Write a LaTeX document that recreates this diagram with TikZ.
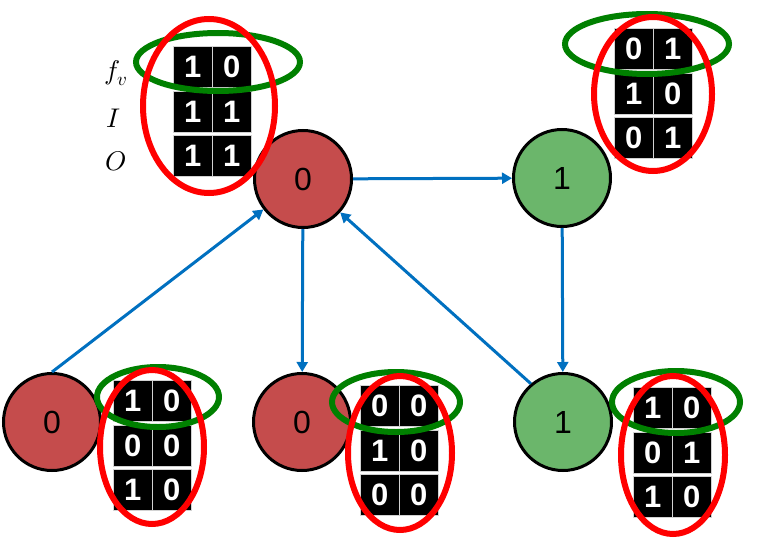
\documentclass[tikz,border=0pt]{standalone}
\usepackage{fontspec}
\usepackage{unicode-math}
\setmathfont{Latin Modern Math}
\setsansfont{Liberation Sans}
\usetikzlibrary{arrows.meta}
\definecolor{nodered}{RGB}{197,76,76}
\definecolor{nodegreen}{RGB}{107,182,107}
\definecolor{arrowblue}{RGB}{0,112,192}
\definecolor{ringgreen}{RGB}{0,128,0}
\definecolor{ringred}{RGB}{255,0,0}
\newcommand\cellmatrix[9]{%
  \node[cell] (#1-11) at (#2,#3) {#4};
  \node[cell] (#1-12) at (#2+39,#3) {#5};
  \node[cell] (#1-21) at (#2,#3+44.5) {#6};
  \node[cell] (#1-22) at (#2+39,#3+44.5) {#7};
  \node[cell] (#1-31) at (#2,#3+89) {#8};
  \node[cell] (#1-32) at (#2+39,#3+89) {#9};
}
\begin{document}
\begin{tikzpicture}[x=1pt,y=-1pt,
  vertex/.style={circle,draw=black,line width=3pt,minimum size=97pt,inner sep=0pt,
    font=\sffamily\fontsize{32}{32}\selectfont},
  redv/.style={vertex,fill=nodered},
  greenv/.style={vertex,fill=nodegreen},
  cell/.style={rectangle,anchor=north west,fill=black,draw=gray!35,line width=0.7pt,
    minimum width=39pt,minimum height=41pt,inner sep=0pt,text=white,
    font=\sffamily\bfseries\fontsize{31}{31}\selectfont},
  link/.style={draw=arrowblue,line width=3pt,-{Triangle[length=10pt,width=11pt]}},
  redring/.style={draw=ringred,line width=6pt},
  greenring/.style={draw=ringgreen,line width=6pt},
  lab/.style={font=\fontsize{27}{27}\selectfont}]
\useasboundingbox (0,0) rectangle (757,543);
\fill[white] (0,0) rectangle (757,543);
% vertices
\node[redv] (A) at (303,179) {0};
\node[greenv] (B) at (562,178) {1};
\node[redv] (C) at (52,422) {0};
\node[redv] (D) at (302,422) {0};
\node[greenv] (E) at (563,422) {1};
% edges
\draw[link] (A) -- (B);
\draw[link] (B) -- (E);
\draw[link] (A) -- (D);
\draw[link] (C.north) -- (A);
\draw[link] (E.130) -- (A);
% row labels
\node[lab] (lf) at (116,73) {$f_v$};
\node[lab] (li) at (114,118) {$I$};
\node[lab] (lo) at (116,161) {$O$};
% matrices
\cellmatrix{tl}{173}{46}{1}{0}{1}{1}{1}{1}
\cellmatrix{tr}{614}{28}{0}{1}{1}{0}{0}{1}
\cellmatrix{bl}{113}{380}{1}{0}{0}{0}{1}{0}
\cellmatrix{bm}{360}{385}{0}{0}{1}{0}{0}{0}
\cellmatrix{br}{633}{387}{1}{0}{0}{1}{1}{0}
% rings
\draw[greenring] (218,62) ellipse [x radius=82pt, y radius=29pt];
\draw[redring] (209,106) ellipse [x radius=66pt, y radius=87pt];
\draw[greenring] (647,44) ellipse [x radius=82pt, y radius=30pt];
\draw[redring] (653,94) ellipse [x radius=59pt, y radius=77pt];
\draw[greenring] (158,397) ellipse [x radius=61pt, y radius=30pt];
\draw[redring] (152,447) ellipse [x radius=52pt, y radius=77pt];
\draw[greenring] (396,402) ellipse [x radius=64pt, y radius=30pt];
\draw[redring] (400,453) ellipse [x radius=52pt, y radius=77pt];
\draw[greenring] (676,402) ellipse [x radius=64pt, y radius=31pt];
\draw[redring] (673,455) ellipse [x radius=52pt, y radius=79pt];
\end{tikzpicture}
\end{document}
